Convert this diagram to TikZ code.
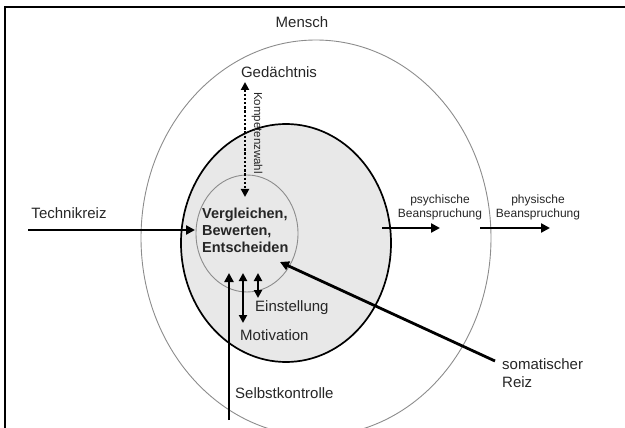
\documentclass[tikz,border=0pt]{standalone}
\usepackage{fontspec}
\setmainfont{Liberation Sans}
\usetikzlibrary{shapes.geometric, arrows.meta}
\definecolor{ring}{gray}{0.55}
\definecolor{psyfill}{gray}{0.91}
\definecolor{txt}{gray}{0.15}
\tikzset{
  beschr/.style={text=txt, font=\fontsize{15}{18}\selectfont, inner sep=0pt},
  klein/.style={text=txt, font=\fontsize{12}{14}\selectfont, inner sep=0pt, align=center},
  pfeil/.style={line width=2.8pt, -{Triangle[length=9pt,width=9pt]}},
  doppel/.style={line width=2.6pt, {Triangle[length=8pt,width=8pt]}-{Triangle[length=8pt,width=8pt]}},
}
\begin{document}
\begin{tikzpicture}[x=1pt,y=-1pt]
  \useasboundingbox (0,0) rectangle (625,428);
  \draw[line width=2pt] (5,428) -- (5,7) -- (625,7);
  \node[ellipse, draw=ring, line width=0.9pt, minimum width=350pt, minimum height=396pt, inner sep=0pt] (mensch) at (316,238) {};
  \node[ellipse, draw=black, fill=psyfill, line width=1.7pt, minimum width=210pt, minimum height=238pt, inner sep=0pt] (psyche) at (286,243) {};
  \node[ellipse, draw=ring, line width=0.9pt, minimum width=102pt, minimum height=117pt, inner sep=0pt] (kern) at (247,233.5) {};

  \node[beschr] (menschtext) at (302,22) {Mensch};
  \node[beschr] (gedtext) at (279,72) {Gedächtnis};
  \node[beschr, font=\bfseries\fontsize{14.5}{17}\selectfont, anchor=west, align=left] (vbe) at (202,230) {Vergleichen,\\Bewerten,\\Entscheiden};
  \node[beschr, font=\fontsize{11.5}{13}\selectfont, rotate=-90] (kompetenz) at (257,133) {Kompetenzwahl};
  \node[beschr] (techtext) at (69,213) {Technikreiz};
  \node[klein] (psytext) at (440,207) {psychische\\Beanspruchung};
  \node[klein] (phytext) at (538,207) {physische\\Beanspruchung};
  \node[beschr, anchor=west] (einst) at (255,308) {Einstellung};
  \node[beschr, anchor=west] (moti) at (240,335) {Motivation};
  \node[beschr, anchor=west] (selbst) at (235,393) {Selbstkontrolle};
  \node[beschr, anchor=west, align=left] (soma) at (502,373) {somatischer\\Reiz};

  \coordinate (ged-a) at (245,82);
  \coordinate (ged-b) at (245,197);
  \coordinate (tech-a) at (28,230);
  \coordinate (tech-b) at (195,230);
  \coordinate (psy-a) at (382,228);
  \coordinate (psy-b) at (440,228);
  \coordinate (phy-a) at (480,228);
  \coordinate (phy-b) at (550,228);
  \coordinate (sk-a) at (229,420);
  \coordinate (sk-b) at (229,273);
  \coordinate (mot-a) at (243,273);
  \coordinate (mot-b) at (243,323);
  \coordinate (ein-a) at (258,273);
  \coordinate (ein-b) at (258,298);
  \coordinate (soma-a) at (495,361);
  \coordinate (soma-b) at (280,262);

  \draw[doppel, line width=2.8pt, dash pattern=on 2.4pt off 1.8pt] (ged-a) -- (ged-b);
  \draw[pfeil] (tech-a) -- (tech-b);
  \draw[pfeil] (psy-a) -- (psy-b);
  \draw[pfeil] (phy-a) -- (phy-b);
  \draw[pfeil] (sk-a) -- (sk-b);
  \draw[doppel] (mot-a) -- (mot-b);
  \draw[doppel] (ein-a) -- (ein-b);
  \draw[pfeil] (soma-a) -- (soma-b);
\end{tikzpicture}
\end{document}
